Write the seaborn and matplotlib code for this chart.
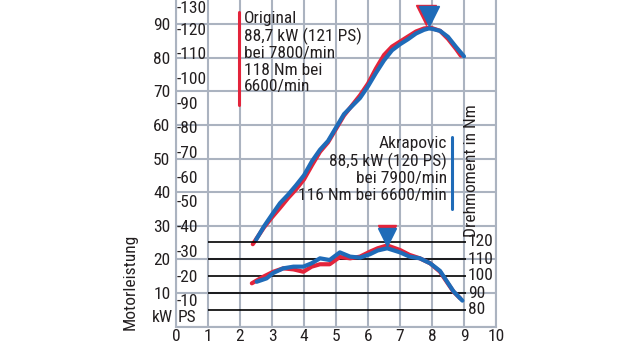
import numpy as np
import pandas as pd
import matplotlib
matplotlib.use("Agg")
import matplotlib.pyplot as plt
import matplotlib.transforms as mtransforms
from matplotlib import font_manager
import seaborn as sns

# ---------------- data ----------------
rpm_orig_p = [2.4, 2.75, 3.0, 3.25, 3.5, 3.75, 4.0, 4.25, 4.5, 4.75, 5.0, 5.25, 5.5, 5.75,
              6.0, 6.25, 6.5, 6.75, 7.0, 7.25, 7.5, 7.75, 7.9, 8.0, 8.25, 8.5, 8.75, 8.9]
kw_orig = [24.5, 29.5, 32.5, 35.3, 38.2, 40.8, 43.8, 48.0, 52.0, 54.8, 58.8, 62.8, 65.8, 68.8,
           72.3, 76.8, 80.8, 83.3, 84.8, 86.3, 87.8, 88.7, 88.9, 88.8, 88.0, 85.6, 82.6, 80.6]
rpm_akra_p = [2.5, 2.75, 3.0, 3.25, 3.5, 3.75, 4.0, 4.25, 4.5, 4.75, 5.0, 5.25, 5.5, 5.75,
              6.0, 6.25, 6.5, 6.75, 7.0, 7.25, 7.5, 7.75, 7.9, 8.0, 8.25, 8.5, 8.75, 9.0]
kw_akra = [25.8, 29.8, 33.3, 36.7, 39.2, 42.0, 45.0, 49.2, 52.6, 55.2, 59.2, 63.2, 65.6, 68.0,
           71.5, 75.5, 79.2, 82.2, 84.0, 85.5, 87.2, 88.3, 88.7, 88.6, 88.0, 86.2, 83.2, 80.4]

rpm_orig_t = [2.37, 2.73, 3.04, 3.35, 3.67, 3.98, 4.24, 4.5, 4.8, 5.12, 5.44, 5.75,
              6.06, 6.3, 6.6, 7.0, 7.3, 7.62, 7.94, 8.25, 8.46, 8.67, 8.88]
nm_orig = [95.7, 99.6, 102.5, 104.5, 103.9, 102.5, 105.5, 106.9, 106.9, 111.2, 110.4, 111.4,
           114.3, 116.3, 118.0, 115.3, 112.4, 110.4, 107.5, 102.5, 96.6, 90.8, 86.9]
rpm_akra_t = [2.52, 2.83, 3.04, 3.35, 3.67, 3.98, 4.24, 4.5, 4.8, 5.12, 5.44, 5.75,
              6.06, 6.3, 6.6, 7.0, 7.3, 7.62, 7.94, 8.25, 8.46, 8.67, 8.95]
nm_akra = [96.6, 98.6, 101.8, 104.5, 105.5, 105.5, 107.5, 110.4, 109.4, 113.9, 111.4, 110.8,
           112.8, 115.0, 116.3, 113.9, 111.4, 110.4, 107.5, 103.0, 97.0, 91.0, 85.5]

peak_orig = (7.8, 88.9, 6.6, 118.0)   # rpm, kW, rpm, Nm
peak_akra = (7.9, 88.7, 6.6, 116.3)

x_ticks = list(range(0, 11))
kw_ticks = list(range(10, 100, 10))
ps_ticks = list(range(10, 140, 10))
nm_ticks = [80, 90, 100, 110, 120]

text_orig = "Original\n88,7 kW (121 PS)\nbei 7800/min\n118 Nm bei\n6600/min"
text_akra = "Akrapovic\n88,5 kW (120 PS)\nbei 7900/min\n116 Nm bei 6600/min"

# ---------------- style ----------------
RED = "#e3243b"
BLUE = "#1f6bb8"
GRID = "#abb3c0"
TXT = "#231f20"

sns.set_theme(style="white")
avail = {f.name for f in font_manager.fontManager.ttflist}
fam = None
for cand in ["Liberation Sans Narrow", "DejaVu Sans Condensed", "Roboto Condensed", "Liberation Sans"]:
    if cand in avail:
        fam = cand
        break
plt.rcParams["font.family"] = [fam, "DejaVu Sans"] if fam else ["DejaVu Sans"]
FS = 12.5

W, H = 620, 349
fig = plt.figure(figsize=(6.2, 3.49), dpi=100)
x0, x1, ybot = 176, 496, 326.5
ax = fig.add_axes([x0 / W, (H - ybot) / H, (x1 - x0) / W, ybot / H])
px_per_kw = 3.36
kw_top = ybot / px_per_kw
ax.set_xlim(0, 10)
ax.set_ylim(0, kw_top)
ax.set_facecolor("white")

ax2 = ax.twinx()
px_per_nm = 1.7
nm_bottom = 120 - (ybot - 242) / px_per_nm
ax2.set_ylim(nm_bottom, nm_bottom + ybot / px_per_nm)

# grid
ax.set_xticks(x_ticks)
ax.set_yticks([0] + kw_ticks)
ax.grid(True, color=GRID, lw=1.5)
ax.set_axisbelow(True)
for s in ["left", "right", "bottom"]:
    ax.spines[s].set_color(GRID)
    ax.spines[s].set_linewidth(1.5)
ax.spines["top"].set_visible(False)
for s in ax2.spines.values():
    s.set_visible(False)
ax.tick_params(axis="both", length=0)
ax.set_xticklabels([str(v) for v in x_ticks], fontsize=FS, color=TXT)
ax.tick_params(axis="x", pad=2)
ax.set_yticklabels([""] + [str(v) for v in kw_ticks], fontsize=FS, color=TXT)
ax.tick_params(axis="y", pad=4)
ax2.set_yticks([])

# PS labels (top one kept just inside the picture)
for ps in ps_ticks:
    yv = min(ps / 1.36, kw_top - 2.6)
    ax.text(0.03, yv, "-" + str(ps), ha="left", va="center", fontsize=FS, color=TXT)

# torque reference lines and labels
ax2.hlines(nm_ticks, 1, 9.05, color="black", lw=1.2, zorder=1)
for nm in nm_ticks:
    ax2.text(9.12, nm, str(nm), ha="left", va="center", fontsize=FS, color=TXT)

# curves
df_p_o = pd.DataFrame({"rpm": rpm_orig_p, "val": kw_orig})
df_p_a = pd.DataFrame({"rpm": rpm_akra_p, "val": kw_akra})
df_t_o = pd.DataFrame({"rpm": rpm_orig_t, "val": nm_orig})
df_t_a = pd.DataFrame({"rpm": rpm_akra_t, "val": nm_akra})
sns.lineplot(data=df_p_o, x="rpm", y="val", ax=ax, color=RED, lw=3, sort=False, zorder=3)
sns.lineplot(data=df_p_a, x="rpm", y="val", ax=ax, color=BLUE, lw=3, sort=False, zorder=4)
sns.lineplot(data=df_t_o, x="rpm", y="val", ax=ax2, color=RED, lw=3, sort=False, zorder=3)
sns.lineplot(data=df_t_a, x="rpm", y="val", ax=ax2, color=BLUE, lw=3, sort=False, zorder=4)
ax.set_xlabel("")
ax.set_ylabel("")
ax2.set_xlabel("")
ax2.set_ylabel("")

# peak markers (triangles sitting on the peaks)
def marker(a, x, y, color, ms, z):
    off = mtransforms.ScaledTranslation(0, (ms / 2 + 1.5) / 72, fig.dpi_scale_trans)
    a.plot([x], [y], marker="v", ms=ms, color=color, mec=color, ls="none",
           transform=a.transData + off, zorder=z, clip_on=False)

marker(ax, peak_orig[0], peak_orig[1], RED, 15, 5)
marker(ax, peak_akra[0], peak_akra[1], BLUE, 15, 6)
marker(ax2, peak_orig[2], peak_orig[3], RED, 13, 5)
marker(ax2, peak_akra[2], peak_akra[3], BLUE, 13, 6)

# texts in figure pixel coords
def ft(px, py, s, **kw):
    fig.text(px / W, 1 - py / H, s, fontsize=FS, color=TXT, **kw)

ft(244, 11, text_orig, ha="left", va="top", linespacing=1.12)
fig.add_artist(plt.Line2D([239 / W, 239 / W], [1 - 12 / H, 1 - 105 / H], color=RED, lw=2.2))
ft(447, 136, text_akra, ha="right", va="top", linespacing=1.12, multialignment="right")
fig.add_artist(plt.Line2D([451.5 / W, 451.5 / W], [1 - 137 / H, 1 - 209 / H], color=BLUE, lw=2.2))

ft(472, 171, "Drehmoment in Nm", ha="center", va="center", rotation=90)
ft(130, 282, "Motorleistung", ha="center", va="center", rotation=90)
ft(173, 317, "kW", ha="right", va="center")
ft(178, 317, "PS", ha="left", va="center")

fig.savefig("out.png", dpi=100)
